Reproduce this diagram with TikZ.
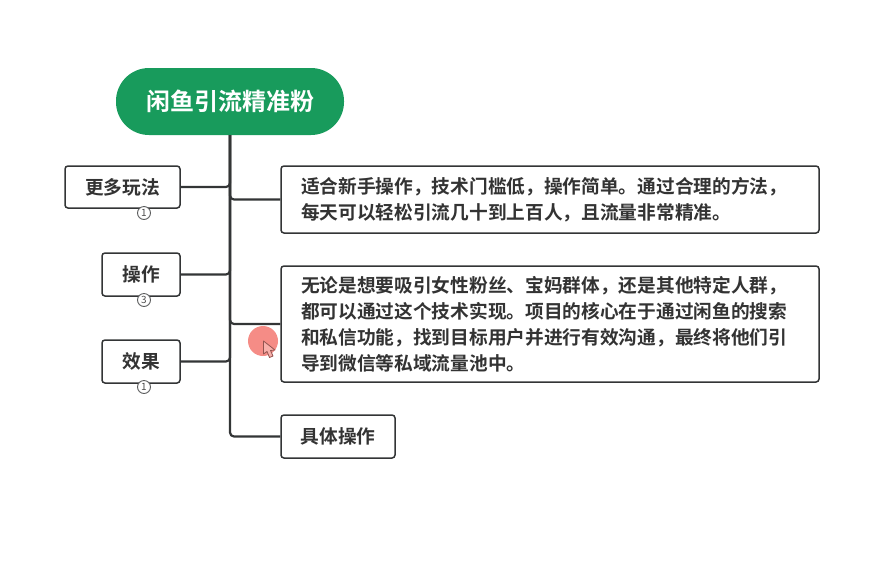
\documentclass[tikz,border=0pt]{standalone}
\usepackage{fontspec}
\setmainfont{Noto Sans CJK SC}[BoldFont={Noto Sans CJK SC Bold}]
\usetikzlibrary{positioning}
\definecolor{rootgreen}{HTML}{189B5C}
\definecolor{linegray}{HTML}{333536}
\definecolor{marker}{HTML}{F58C86}
\tikzset{
  topic/.style={draw=linegray,line width=1.5pt,rounded corners=3pt,fill=white,text=black!80,
    font=\bfseries\fontsize{18.7}{26}\selectfont,align=center,inner sep=0pt},
  note/.style={topic,align=left,text width=498pt,inner xsep=20pt},
  count/.style={draw=linegray!80,line width=0.9pt,circle,fill=white,minimum size=13pt,inner sep=0pt,
    font=\fontsize{10}{10}\selectfont,text=black!70},
  branch/.style={draw=linegray,line width=2.2pt,rounded corners=4pt}
}
\begin{document}
\begin{tikzpicture}[x=1pt,y=-1pt]
\useasboundingbox (0,0) rectangle (891,582);
\node[fill=rootgreen,text=white,rounded corners=33pt,minimum width=228pt,minimum height=67pt,inner sep=0pt,font=\bfseries\fontsize{24}{28}\selectfont] (root) at (230,101.5) {闲鱼引流精准粉};
\node[topic,minimum width=115pt,minimum height=42pt] (more) at (122.5,187) {更多玩法};
\node[topic,minimum width=78pt,minimum height=43pt] (oper) at (141,274.5) {操作};
\node[topic,minimum width=78pt,minimum height=43pt] (effect) at (141,361.5) {效果};
\node[note,minimum height=67pt] (intro) at (550,199.5) {适合新手操作，技术门槛低，操作简单。通过合理的方法，\\每天可以轻松引流几十到上百人，且流量非常精准。};
\node[note,minimum height=116pt] (detail) at (550,324) {无论是想要吸引女性粉丝、宝妈群体，还是其他特定人群，\\都可以通过这个技术实现。项目的核心在于通过闲鱼的搜索\\和私信功能，找到目标用户并进行有效沟通，最终将他们引\\导到微信等私域流量池中。};
\node[topic,minimum width=114pt,minimum height=43pt] (steps) at (338,436.5) {具体操作};
\node[count] (c1) at (144,213) {1};
\node[count] (c2) at (144,300) {3};
\node[count] (c3) at (144,387) {1};
\draw[branch] (more) -| (root);
\draw[branch] (oper) -| (root);
\draw[branch] (effect) -| (root);
\draw[branch] (intro) -| (root);
\draw[branch] (detail) -| (root);
\draw[branch] (steps) -| (root);
% pointer
\node[circle,fill=marker,minimum size=30pt,inner sep=0pt] (dot) at (263,341) {};
\draw[draw=marker!60!black,fill=marker!70!white,line width=0.8pt,line join=round] (263.5,341) -- (263.5,354) -- (267,351.5) -- (269.5,357.5) -- (273,356) -- (270.5,350.5) -- (275,350) -- cycle;
\end{tikzpicture}
\end{document}
